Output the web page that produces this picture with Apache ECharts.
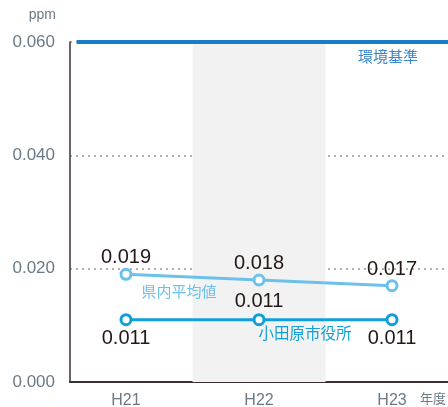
<!DOCTYPE html>
<html>
<head>
<meta charset="utf-8">
<script src="https://cdn.jsdelivr.net/npm/echarts@6/dist/echarts.min.js"></script>
<style>
  html, body { margin: 0; padding: 0; background: #fff; }
  #chart { width: 448px; height: 407px; }
</style>
</head>
<body>
<div id="chart"></div>
<script>
// Nitrogen dioxide annual means (ppm)
const years = ['H21', 'H22', 'H23'];
const prefAverage = [0.019, 0.018, 0.017];   // 県内平均値
const cityHall = [0.011, 0.011, 0.011];      // 小田原市役所
const standardValue = 0.06;                  // 環境基準
const yTicks = [0, 0.02, 0.04, 0.06];

const JP = '"Noto Sans CJK JP", "Noto Sans", sans-serif';
const NUM = '"Liberation Sans", Arial, sans-serif';
const LIGHT = '#6cc1ec';
const CITY = '#0fa0dc';
const STD = '#1a7cc6';
const GREY = '#6a7a86';

const X_MIN = -0.421;
const X_MAX = 2.421;

// label placement for the city series: below, above, below
const cityLabelPos = ['bottom', 'top', 'bottom'];

const chart = echarts.init(document.getElementById('chart'), null, { renderer: 'canvas' });

const pts = (arr) => arr.map((v, i) => [i, v]);

const option = {
  animation: false,
  grid: {
    left: 70, right: 0, top: 42, bottom: 25,
    containLabel: false,
    outerBoundsMode: 'none'
  },
  xAxis: {
    type: 'value',
    min: X_MIN,
    max: X_MAX,
    axisLine: { show: true, onZero: false, lineStyle: { color: '#3b3030', width: 2 } },
    axisTick: { show: false },
    splitLine: { show: false },
    axisLabel: {
      customValues: years.map((_, i) => i),
      formatter: (v) => years[Math.round(v)],
      color: GREY,
      fontSize: 16,
      fontFamily: NUM,
      margin: 11
    }
  },
  yAxis: {
    type: 'value',
    min: 0,
    max: 0.06,
    interval: 0.02,
    axisLine: { show: true, onZero: false, lineStyle: { color: '#3b3030', width: 1.5 } },
    axisTick: { show: false },
    splitLine: { show: true, lineStyle: { type: [2, 4], color: '#999', width: 1.5 } },
    axisLabel: {
      formatter: (v) => v.toFixed(3),
      color: GREY,
      fontSize: 17,
      fontFamily: NUM,
      margin: 15
    }
  },
  series: [
    {
      name: '環境基準',
      type: 'line',
      data: [],
      markArea: {
        silent: true,
        itemStyle: { color: '#f2f2f2' },
        data: [[{ xAxis: 0.5 }, { xAxis: 1.5 }]]
      },
      markLine: {
        silent: true,
        symbol: 'none',
        lineStyle: { color: STD, width: 4, type: 'solid' },
        label: {
          position: 'insideEndBottom',
          formatter: '環境基準',
          color: '#3a86c8',
          fontSize: 15,
          fontFamily: JP,
          distance: [30, 7]
        },
        data: [[
          { coord: [X_MIN + 0.05, standardValue] },
          { coord: [X_MAX, standardValue] }
        ]]
      },
      z: 4
    },
    {
      name: '県内平均値',
      type: 'line',
      data: pts(prefAverage),
      symbol: 'circle',
      symbolSize: 10,
      lineStyle: { color: LIGHT, width: 3 },
      itemStyle: { color: '#fff', borderColor: LIGHT, borderWidth: 3 },
      label: {
        show: true,
        position: 'top',
        distance: 0,
        formatter: (p) => p.value[1].toFixed(3),
        color: '#231815',
        fontSize: 20,
        fontFamily: NUM
      },
      z: 3
    },
    {
      name: '小田原市役所',
      type: 'line',
      data: pts(cityHall).map((d, i) => ({
        value: d,
        label: { position: cityLabelPos[i] }
      })),
      symbol: 'circle',
      symbolSize: 10,
      lineStyle: { color: CITY, width: 3 },
      itemStyle: { color: '#fff', borderColor: CITY, borderWidth: 3 },
      label: {
        show: true,
        distance: 2,
        formatter: (p) => p.value[1].toFixed(3),
        color: '#231815',
        fontSize: 20,
        fontFamily: NUM
      },
      z: 3
    }
  ]
};

chart.setOption(option);

// Series names and axis units placed next to the plotted lines
const pPref = chart.convertToPixel({ gridIndex: 0 }, [0.5, (prefAverage[0] + prefAverage[1]) / 2]);
const pCity = chart.convertToPixel({ gridIndex: 0 }, [1.5, cityHall[1]]);
const pLast = chart.convertToPixel({ gridIndex: 0 }, [2, 0]);
const pTop = chart.convertToPixel({ gridIndex: 0 }, [0, yTicks[yTicks.length - 1]]);

chart.setOption({
  graphic: [
    {
      type: 'text', x: pPref[0] - 51, y: pPref[1] + 7, z: 100,
      style: { text: '県内平均値', fill: LIGHT, font: '15px ' + JP }
    },
    {
      type: 'text', x: pCity[0] - 67, y: pCity[1] + 6, z: 100,
      style: { text: '小田原市役所', fill: CITY, font: '15.5px ' + JP }
    },
    {
      type: 'text', x: pLast[0] + 28, y: pLast[1] + 10, z: 100,
      style: { text: '年度', fill: GREY, font: '13px ' + JP }
    },
    {
      type: 'text', x: 56, y: pTop[1] - 34, z: 100,
      style: { text: 'ppm', fill: GREY, font: '14px ' + NUM, align: 'right' }
    }
  ]
});
</script>
</body>
</html>
